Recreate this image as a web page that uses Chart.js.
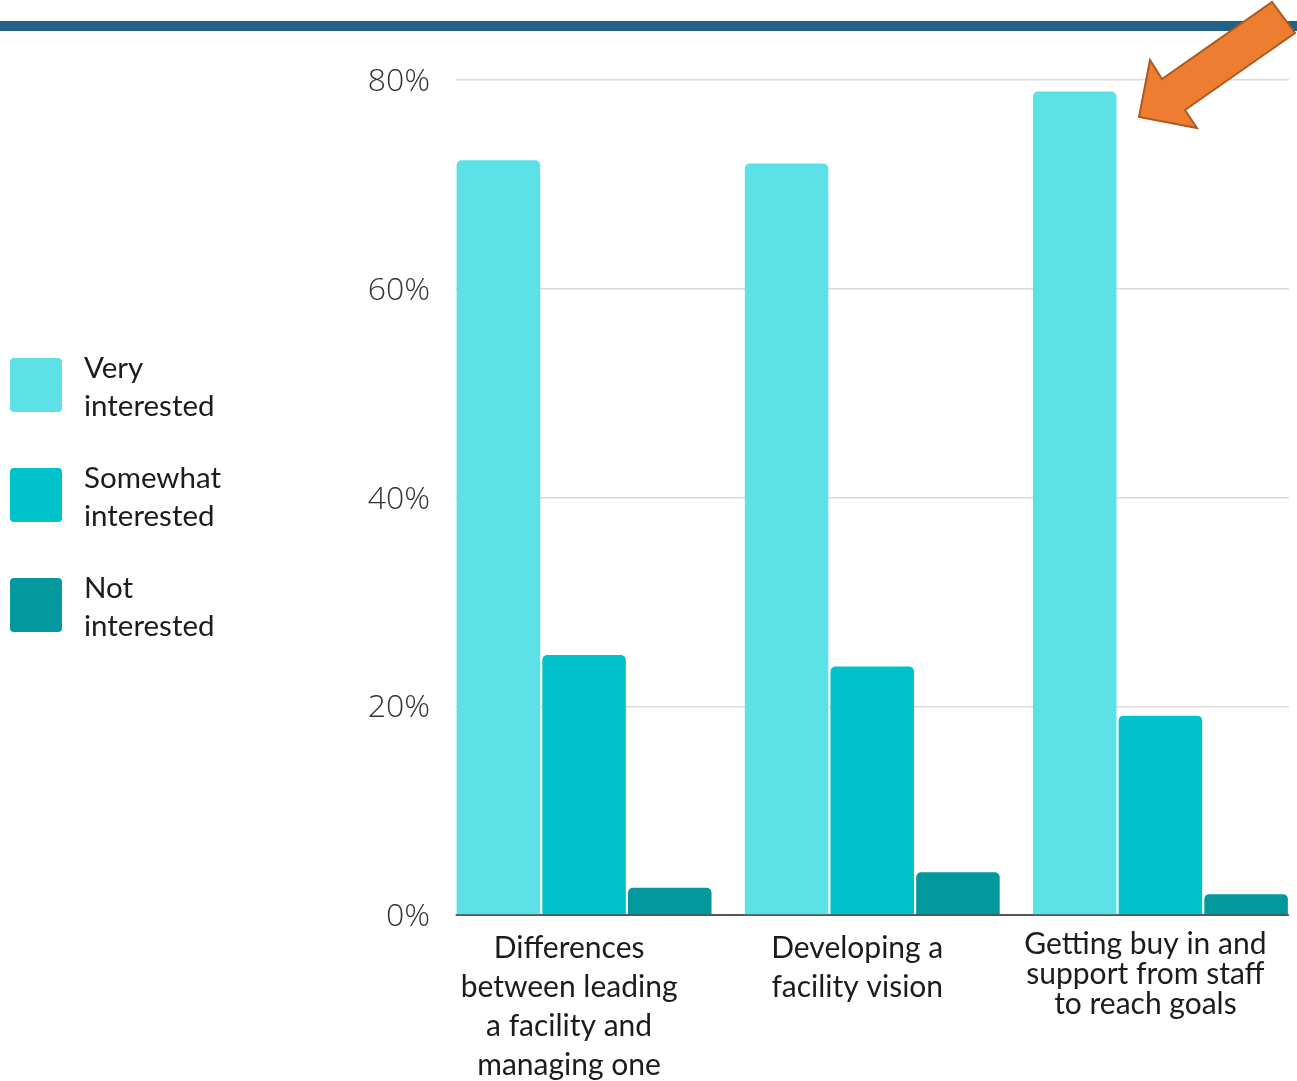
<!DOCTYPE html>
<html>
<head>
<meta charset="utf-8">
<script src="https://cdn.jsdelivr.net/npm/chart.js@4.4.1/dist/chart.umd.min.js"></script>
<style>
  html, body { margin: 0; padding: 0; background: #fff; overflow: hidden; width: 1297px; height: 1081px; }
  #wrap { position: relative; width: 1297px; height: 1081px; overflow: hidden; }
  #topbar { position: absolute; left: 0; top: 21px; width: 1297px; height: 10px; background: #236186; }
  #chart { position: absolute; left: 0; top: 0; }
  #legend { position: absolute; left: 10px; top: 348px; font-family: Lato, "Open Sans", sans-serif; font-size: 29.5px; color: #1c1c1c; }
  .item { display: flex; align-items: flex-start; height: 110px; }
  .sw { width: 52px; height: 54px; border-radius: 4px; margin-top: 10px; margin-right: 22px; flex: none; }
  .txt { line-height: 38px; }
  #arrow { position: absolute; left: 0; top: 0; pointer-events: none; }
</style>
</head>
<body>
<div id="wrap">
  <canvas id="chart" width="1310" height="1081"></canvas>
  <div id="topbar"></div>
  <div id="legend"></div>
  <svg id="arrow" width="1297" height="1081">
    <polygon points="1139,117 1150,60 1162,79 1272,2 1295,33 1185,110 1197,128" fill="#ED7D31" stroke="#AE5A21" stroke-width="2" stroke-linejoin="miter"/>
  </svg>
</div>
<script>
const categories = [
  ["Differences", "between leading", "a facility and", "managing one"],
  ["Developing a", "facility vision"],
  ["Getting buy in and", "support from staff", "to reach goals"]
];
const seriesNames = [["Very", "interested"], ["Somewhat", "interested"], ["Not", "interested"]];
const veryInterested = [72.3, 72.0, 78.9];
const somewhatInterested = [24.9, 23.8, 19.1];
const notInterested = [2.6, 4.1, 2.0];
const yTicks = [0, 20, 40, 60, 80];

const colors = ["#5CE1E6", "#00C2CB", "#03989E"];
const labelLineHeights = [39, 39, 30];

// HTML legend from the series names
const legend = document.getElementById('legend');
seriesNames.forEach((n, i) => {
  const it = document.createElement('div'); it.className = 'item';
  const sw = document.createElement('div'); sw.className = 'sw'; sw.style.background = colors[i];
  const tx = document.createElement('div'); tx.className = 'txt'; tx.innerHTML = n.join('<br>');
  it.appendChild(sw); it.appendChild(tx); legend.appendChild(it);
});

const values = [veryInterested, somewhatInterested, notInterested];

const trimPlugin = {
  id: 'trim',
  beforeDatasetsDraw(chart) {
    const ctx = chart.ctx, a = chart.chartArea;
    const first = chart.getDatasetMeta(0).data[0];
    const last = chart.getDatasetMeta(2).data[2];
    const l = first.x - first.width / 2 - 1;
    const r = last.x + last.width / 2 + 1;
    ctx.save();
    ctx.fillStyle = '#fff';
    ctx.fillRect(a.left - 2, a.top - 5, l - a.left + 2, a.bottom - a.top + 10);
    ctx.fillRect(r, a.top - 5, a.right - r + 10, a.bottom - a.top + 10);
    ctx.restore();
  }
};

new Chart(document.getElementById('chart'), {
  type: 'bar',
  data: {
    labels: categories,
    datasets: values.map((v, i) => ({
      label: seriesNames[i].join(' '),
      data: v,
      backgroundColor: colors[i],
      borderWidth: 0,
      borderRadius: 5,
      borderSkipped: 'start',
      barPercentage: 0.975,
      categoryPercentage: 0.892
    }))
  },
  options: {
    responsive: false,
    animation: false,
    devicePixelRatio: 1,
    layout: { padding: { left: 0, top: 80, right: 5.5, bottom: 0 } },
    plugins: { legend: { display: false }, tooltip: { enabled: false } },
    scales: {
      x: {
        grid: { display: false, drawTicks: false },
        border: { display: true, color: '#555', width: 2 },
        ticks: {
          padding: 14,
          labelOffset: -15,
          color: '#1c1c1c',
          maxRotation: 0,
          autoSkip: false,
          font: (c) => ({ family: 'Lato, "Open Sans", sans-serif', size: 30, lineHeight: labelLineHeights[c.index] + 'px' })
        },
        afterFit(s) { s.height = 166; }
      },
      y: {
        min: 0, max: 80,
        afterBuildTicks(s) { s.ticks = yTicks.map(v => ({ value: v })); },
        grid: { color: '#d9d9d9', lineWidth: 1.5, drawTicks: false },
        border: { display: false },
        ticks: {
          padding: 10,
          labelOffset: 2,
          color: '#333',
          font: { family: '"Open Sans", sans-serif', size: 32, weight: '300' },
          callback: (v) => v + '%'
        },
        afterFit(s) { s.width = 440; }
      }
    }
  },
  plugins: [trimPlugin]
});
</script>
</body>
</html>
